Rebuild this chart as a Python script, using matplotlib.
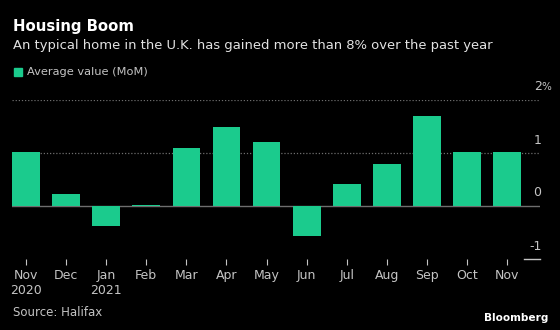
import numpy as np
import matplotlib.pyplot as plt
from matplotlib.transforms import ScaledTranslation

# monthly change in the average UK home value, % (Halifax)
months = ["Nov", "Dec", "Jan", "Feb", "Mar", "Apr", "May",
          "Jun", "Jul", "Aug", "Sep", "Oct", "Nov"]
years = ["2020", "", "2021", "", "", "", "", "", "", "", "", "", ""]
mom_change = [1.01, 0.22, -0.37, 0.02, 1.10, 1.49, 1.20,
              -0.56, 0.41, 0.80, 1.70, 1.01, 1.01]
y_ticks = [-1, 0, 1, 2]
y_labels = ["-1", "0", "1", "2"]

W, H = 560, 330
BG = "#000000"
GREEN = "#1bcb8d"
GRID = "#6e6e6e"
LABEL = "#c4c4c4"

plt.rcParams["font.family"] = ["DejaVu Sans"]

fig = plt.figure(figsize=(W / 100, H / 100), dpi=100, facecolor=BG)


def px(x, y):
    # pixel coords from top-left -> figure fraction
    return x / W, 1 - y / H


# axes box: x 12..540 px, y 100..259 px
ax = fig.add_axes([12 / W, (H - 259) / H, 528 / W, 159 / H])
ax.set_facecolor(BG)

x = np.arange(len(months))
ax.bar(x, mom_change, width=0.69, color=GREEN, zorder=3)

ax.set_xlim(-0.35, 12.82)
ax.set_ylim(-1, 2)

# gridlines: dotted at 1 and 2, solid at zero
for t in y_ticks:
    if t == 0:
        ax.axhline(t, color=GRID, lw=1.0, zorder=2)
    elif t > 0:
        ax.axhline(t, color=GRID, lw=0.9, ls=(0, (1, 1.5)), zorder=1)
# short dash under the lowest label
ax.plot([0.97, 1.0], [-1, -1], transform=ax.get_yaxis_transform(),
        color=LABEL, lw=1.0, clip_on=False)

# y labels sit above their gridlines on the right
lift = ScaledTranslation(0, 0.13, fig.dpi_scale_trans)
for t, lab in zip(y_ticks, y_labels):
    ax.text(1.0030, t, lab, transform=ax.get_yaxis_transform() + lift,
            ha="right", va="center", color=LABEL, fontsize=9)
    if t == 2:
        ax.text(1.0030, t, "%", transform=ax.get_yaxis_transform() + lift,
                ha="left", va="center", color=LABEL, fontsize=7.5)

ax.set_yticks([])
ax.set_xticks(x)
ax.set_xticklabels([m + ("\n" + yr if yr else "\n") for m, yr in zip(months, years)],
                   color=LABEL, fontsize=9, linespacing=1.2)
ax.tick_params(axis="x", length=4, width=0.8, color=LABEL, pad=3,
               direction="out")
for s in ax.spines.values():
    s.set_visible(False)

# header, legend and footer
fig.text(*px(13, 27), "Housing Boom", color="white", fontsize=10.7,
         fontweight="bold", va="center", ha="left")
fig.text(*px(13, 45), "An typical home in the U.K. has gained more than 8% over the past year",
         color="#e2e2e2", fontsize=9.45, va="center", ha="left")
fig.patches.append(plt.Rectangle(px(14, 76), 8 / W, 8 / H, color=GREEN,
                                 transform=fig.transFigure, figure=fig))
fig.text(*px(27, 72), "Average value (MoM)", color=LABEL, fontsize=8.2,
         va="center", ha="left")
fig.text(*px(13, 313), "Source: Halifax", color=LABEL, fontsize=8.5,
         va="center", ha="left")
fig.text(*px(548, 318), "Bloomberg", color="white", fontsize=7.6,
         fontweight="bold", va="center", ha="right")

fig.savefig("out.png", dpi=100, facecolor=BG)
